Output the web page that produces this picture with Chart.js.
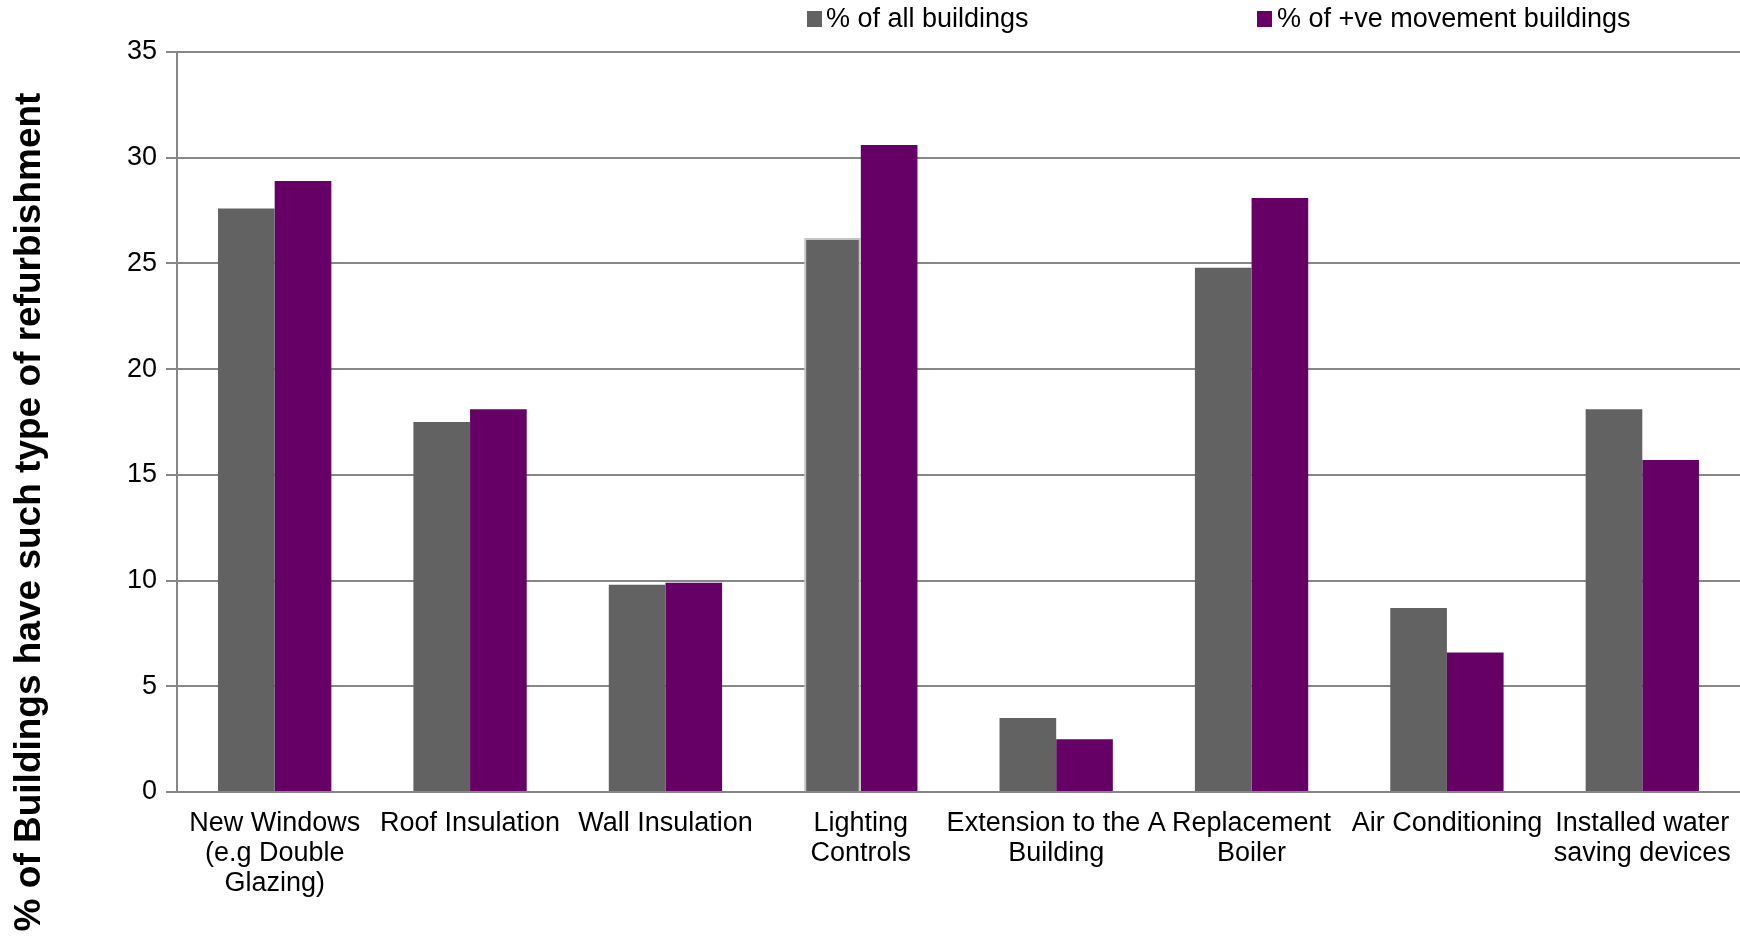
<!DOCTYPE html>
<html>
<head>
<meta charset="utf-8">
<script src="https://cdn.jsdelivr.net/npm/chart.js@4/dist/chart.umd.min.js"></script>
<style>
  body { margin: 0; background: #fff; }
  #wrap { position: relative; width: 1740px; height: 937px; overflow: hidden; }
  .legendItem { position: absolute; top: 3px; font: 27px "Liberation Sans", Arial, sans-serif; color: #000; white-space: nowrap; }
  .legendBox { position: absolute; top: 11px; width: 15px; height: 16px; }
</style>
</head>
<body>
<div id="wrap">
  <canvas id="refurbChart" width="1740" height="937"></canvas>
  <div class="legendBox" style="left:807px; background:#626262"></div>
  <div class="legendItem" style="left:826px">% of all buildings</div>
  <div class="legendBox" style="left:1257px; background:#660066"></div>
  <div class="legendItem" style="left:1277px">% of +ve movement buildings</div>
</div>
<script>
// Categories (multi-line labels like the original)
const categories = [
  ['New Windows', '(e.g Double', 'Glazing)'],
  ['Roof Insulation'],
  ['Wall Insulation'],
  ['Lighting', 'Controls'],
  ['Extension to the A', 'Building'],
  ['Replacement', 'Boiler'],
  ['Air Conditioning'],
  ['Installed water', 'saving devices']
];

// Values
const allBuildings = [27.6, 17.5, 9.8, 26.2, 3.5, 24.8, 8.7, 18.1];
const positiveBuildings = [28.9, 18.1, 9.9, 30.6, 2.5, 28.1, 6.6, 15.7];

const yTicks = [0, 5, 10, 15, 20, 25, 30, 35];
const yTitle = '% of Buildings have such type of refurbishment';

const gridGrey = '#878787';
const fontFamily = '"Liberation Sans", Arial, sans-serif';

// Draw the rotated y axis title where the original has it
const yTitlePlugin = {
  id: 'yTitlePlugin',
  afterDraw(chart) {
    const c = chart.ctx;
    c.save();
    c.translate(30, 512);
    c.rotate(-Math.PI / 2);
    c.font = 'bold 37px ' + fontFamily;
    c.fillStyle = '#000';
    c.textAlign = 'center';
    c.textBaseline = 'middle';
    c.fillText(yTitle, 0, 0);
    c.restore();
  }
};

const ctx = document.getElementById('refurbChart').getContext('2d');

let refurbChart = new Chart(ctx, {
  type: 'bar',
  data: {
    labels: categories,
    datasets: [{
      label: '% of all buildings',
      data: allBuildings,
      backgroundColor: '#626262',
      // the Lighting Controls bar has a light outline in the original
      borderColor: allBuildings.map((v, i) => i === 3 ? '#c4c4c4' : '#626262'),
      borderWidth: allBuildings.map((v, i) => i === 3 ? 2 : 0),
      categoryPercentage: 0.58,
      barPercentage: 1.0
    },
    {
      label: '% of +ve movement buildings',
      data: positiveBuildings,
      backgroundColor: '#660066',
      borderWidth: 0,
      categoryPercentage: 0.58,
      barPercentage: 1.0
    }]
  },
  options: {
    responsive: false,
    animation: false,
    layout: {
      padding: { left: 0, right: -8, top: 52, bottom: 0 }
    },
    plugins: {
      legend: { display: false },
      tooltip: { enabled: false }
    },
    scales: {
      x: {
        grid: { display: false, drawTicks: false },
        border: { display: true, color: gridGrey, width: 2 },
        ticks: {
          color: '#000',
          font: { family: fontFamily, size: 27, lineHeight: 1.11 },
          padding: 17,
          autoSkip: false,
          maxRotation: 0,
          minRotation: 0
        },
        afterFit(scale) {
          scale.height = 937 - 792;
          // let the last label run off the edge like the original
          scale.paddingLeft = 0;
          scale.paddingRight = 0;
        }
      },
      y: {
        min: 0,
        max: 35,
        afterBuildTicks(scale) {
          scale.ticks = yTicks.map(v => ({ value: v }));
        },
        grid: {
          color: gridGrey,
          lineWidth: 2,
          tickLength: 11,
          tickColor: gridGrey
        },
        border: { display: true, color: gridGrey, width: 2 },
        ticks: {
          color: '#000',
          font: { family: fontFamily, size: 27 },
          padding: 9
        },
        afterFit(scale) {
          scale.width = 177;
        }
      }
    }
  },
  plugins: [yTitlePlugin]
});
</script>
</body>
</html>
